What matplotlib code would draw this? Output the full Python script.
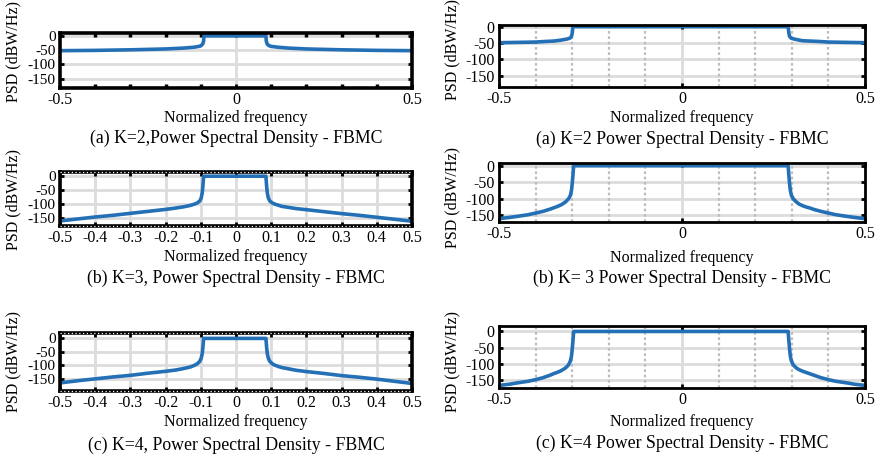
import matplotlib
matplotlib.use("Agg")
import matplotlib.pyplot as plt
from matplotlib.ticker import FixedLocator

plt.rcParams['font.family'] = ['Liberation Serif', 'DejaVu Serif']
plt.rcParams['axes.unicode_minus'] = False

# ---------------- data ----------------
# (a) left: K=2, narrow band
f_a_left = [-0.5, -0.4, -0.3, -0.2, -0.15, -0.12, -0.105, -0.1, -0.097, -0.094, -0.092, -0.091,
            0.085, 0.086, 0.088, 0.091, 0.095, 0.1, 0.12, 0.15, 0.2, 0.3, 0.4, 0.5]
p_a_left = [-52, -51, -49, -46, -43, -40, -37, -35, -32, -27, -18, 0,
            0, -18, -27, -32, -35, -37, -40, -43, -46, -49, -51, -52]

# (a) right: K=2, wide band
f_a_right = [-0.5, -0.45, -0.4, -0.37, -0.35, -0.33, -0.315, -0.306, -0.302, -0.3, -0.298,
             0.29, 0.292, 0.294, 0.298, 0.307, 0.32, 0.33, 0.35, 0.37, 0.4, 0.45, 0.5]
p_a_right = [-49, -48, -47, -45, -44, -41, -38, -35, -30, -20, 0,
             0, -20, -30, -35, -38, -41, -43, -44, -45, -47, -48, -49]

# (b) left: K=3, narrow band
f_b_left = [-0.5, -0.45, -0.4, -0.35, -0.3, -0.25, -0.2, -0.17, -0.15, -0.13, -0.12, -0.11,
            -0.103, -0.099, -0.096, -0.094, -0.092,
            0.085, 0.087, 0.089, 0.092, 0.096, 0.103, 0.11, 0.12, 0.13, 0.15, 0.17, 0.2,
            0.25, 0.3, 0.35, 0.4, 0.45, 0.5]
p_b_left = [-159, -152, -145, -139, -132, -125, -118, -113, -109, -104, -100, -95,
            -88, -78, -60, -35, 0,
            0, -35, -60, -78, -88, -95, -99, -103, -107, -111, -115, -119,
            -126, -133, -139, -146, -153, -160]

# (b) right: K=3, wide band
f_b_right = [-0.5, -0.47, -0.45, -0.42, -0.4, -0.38, -0.36, -0.35, -0.34, -0.33, -0.32, -0.315,
             -0.31, -0.305, -0.302, -0.3, -0.298, -0.296,
             0.29, 0.292, 0.294, 0.296, 0.299, 0.304, 0.309, 0.314, 0.32, 0.33, 0.34, 0.35,
             0.36, 0.38, 0.4, 0.42, 0.45, 0.47, 0.5]
p_b_right = [-160, -156, -153, -148, -143, -138, -131, -127, -123, -118, -111, -106,
             -100, -90, -75, -55, -30, 0,
             0, -30, -55, -75, -90, -100, -106, -111, -116, -121, -125, -128,
             -132, -138, -143, -148, -153, -156, -160]

# (c) left: K=4, narrow band
f_c_left = [-0.5, -0.45, -0.4, -0.35, -0.3, -0.25, -0.2, -0.17, -0.15, -0.13, -0.12, -0.11,
            -0.103, -0.099, -0.096, -0.094, -0.092,
            0.085, 0.087, 0.089, 0.092, 0.096, 0.103, 0.11, 0.12, 0.13, 0.15, 0.17, 0.2,
            0.25, 0.3, 0.35, 0.4, 0.45, 0.5]
p_c_left = [-165, -157, -150, -143, -137, -129, -122, -117, -112, -106, -101, -94,
            -85, -74, -57, -33, 0,
            0, -33, -57, -74, -85, -94, -99, -104, -108, -113, -118, -123,
            -130, -138, -144, -151, -159, -167]

# (c) right: K=4, wide band
f_c_right = [-0.5, -0.47, -0.45, -0.42, -0.4, -0.38, -0.36, -0.35, -0.34, -0.33, -0.32, -0.315,
             -0.31, -0.305, -0.302, -0.3, -0.298, -0.296,
             0.29, 0.292, 0.294, 0.296, 0.299, 0.304, 0.309, 0.314, 0.32, 0.33, 0.34, 0.35,
             0.36, 0.38, 0.4, 0.42, 0.45, 0.47, 0.5]
p_c_right = [-168, -164, -160, -155, -150, -144, -136, -131, -127, -122, -115, -110,
             -104, -92, -77, -55, -30, 0,
             0, -30, -55, -77, -92, -104, -110, -115, -119, -124, -128, -132,
             -136, -144, -150, -155, -160, -164, -168]

captions = ["(a) K=2,Power Spectral Density - FBMC", "(a) K=2 Power Spectral Density - FBMC",
            "(b) K=3, Power Spectral Density - FBMC", "(b) K= 3 Power Spectral Density - FBMC",
            "(c) K=4, Power Spectral Density - FBMC", "(c) K=4 Power Spectral Density - FBMC"]
yticks = [-150, -100, -50, 0]
ytick_labels = ['-150', '-100', '-50', '0']
xlabel = "Normalized frequency"
ylabel = "PSD (dBW/Hz)"

# ---------------- layout ----------------
W, H = 879, 457
fig = plt.figure(figsize=(W / 100, H / 100), dpi=100)
BLUE = '#2470B6'
GRID = '#DCDCDC'

panels = [
    # x0, y0, x1, y1, ylim, data, style, xlab_y, cap_y, ylab_x, ylab_y
    (60, 33, 412, 88, (-183, 10), (f_a_left, p_a_left), 'L1', 118, 138, 13, 52),
    (499, 25, 865, 87, (-184, 5), (f_a_right, p_a_right), 'R', 118, 139, 452, 50),
    (60, 172, 412, 226, (-177, 15), (f_b_left, p_b_left), 'L2', 257, 278, 13, 199),
    (499, 163, 865, 222, (-170, 8), (f_b_right, p_b_right), 'R', 258, 278, 452, 198),
    (60, 333, 412, 391, (-195, 20), (f_c_left, p_c_left), 'L2', 422, 445, 13, 362),
    (499, 326, 865, 388, (-176, 17), (f_c_right, p_c_right), 'R', 422, 443, 452, 361),
]

FS = 11.5
FS_CAP = 12.8
minor_x = [-0.4, -0.3, -0.2, -0.1, 0.1, 0.2, 0.3, 0.4]
for i, (x0, y0, x1, y1, ylim, (fx, py), style, xly, cy, ylx, yly) in enumerate(panels):
    ax = fig.add_axes([x0 / W, 1 - y1 / H, (x1 - x0) / W, (y1 - y0) / H])
    ax.set_xlim(-0.5, 0.5)
    ax.set_ylim(*ylim)
    ax.set_yticks(yticks)
    ax.set_yticklabels(ytick_labels)
    for yv in yticks:
        ax.axhline(yv, color=GRID, lw=2.0, zorder=0)
    if style == 'L2':
        xt = [round(-0.5 + 0.1 * k, 1) for k in range(11)]
        ax.set_xticks(xt)
        ax.set_xticklabels(['0' if abs(v) < 1e-9 else ('%.1f' % v) for v in xt])
        for xv in xt:
            ax.axvline(xv, color=GRID, lw=2.0, zorder=0)
    else:
        ax.set_xticks([-0.5, 0, 0.5])
        ax.set_xticklabels(['-0.5', '0', '0.5'])
        ax.axvline(0, color=GRID, lw=2.0, zorder=0)
        ax.xaxis.set_minor_locator(FixedLocator(minor_x))
        if style == 'R':
            for xv in minor_x:
                ax.axvline(xv, color='#BDBDBD', lw=1.6, ls=(0, (1.2, 1.2)), zorder=0)
            ax.tick_params(axis='x', which='minor', length=0)
        else:
            ax.tick_params(axis='x', which='minor', direction='in', length=3, width=2.5,
                           top=True, bottom=True, color='black')
    ax.plot(fx, py, color=BLUE, lw=2.6, solid_joinstyle='round', solid_capstyle='butt', zorder=3)
    spine_w = 2.0 if style == 'R' else 2.6
    for s in ax.spines.values():
        s.set_linewidth(spine_w)
        s.set_color('black')
        s.set_zorder(4)
    ax.tick_params(axis='both', which='major', direction='in', length=3, width=2.0,
                   top=True, right=True, labelsize=FS, pad=3, color='black')
    if style != 'R':
        ax.tick_params(axis='y', labelsize=11)
    if style == 'L2':
        for yy in (0, 1):
            ax.plot([0, 1], [yy, yy], transform=ax.transAxes, color='white', lw=0.9,
                    ls=(0, (1.0, 2.0)), clip_on=False, zorder=5)
    cx = (x0 + x1) / 2
    fig.text(cx / W, 1 - xly / H, xlabel, ha='center', va='center', fontsize=FS)
    fig.text(cx / W, 1 - cy / H, captions[i], ha='center', va='center', fontsize=FS_CAP)
    fig.text(ylx / W, 1 - yly / H, ylabel, ha='center', va='center', rotation=90, fontsize=FS)

fig.savefig('out.png', dpi=100)
